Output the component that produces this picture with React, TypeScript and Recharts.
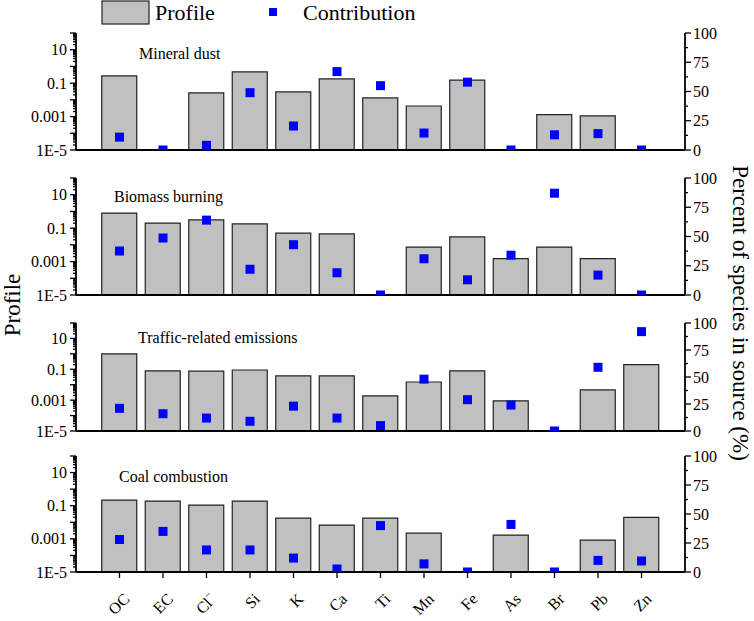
import React from 'react';
import { ComposedChart, Bar, Scatter, XAxis, YAxis } from 'recharts';

const FONT = '"Liberation Serif", "Times New Roman", serif';

const categories = ['OC', 'EC', 'Cl⁻', 'Si', 'K', 'Ca', 'Ti', 'Mn', 'Fe', 'As', 'Br', 'Pb', 'Zn'];

// profile (log axis), contribution (% axis); null = no bar
const dustProfile = [0.27, null, 0.026, 0.47, 0.03, 0.18, 0.013, 0.0043, 0.15, null, 0.0013, 0.0011, null];
const dustContribution = [11, 0, 4, 49, 20.5, 67, 55, 14.5, 58, 0, 13, 14, 0];

const biomassProfile = [0.8, 0.2, 0.31, 0.18, 0.051, 0.045, null, 0.0074, 0.03, 0.0015, 0.0074, 0.0015, null];
const biomassContribution = [37.6, 48.7, 64, 22, 43, 19, 0, 31, 13, 34, 87, 17, 0];

const trafficProfile = [1.0, 0.08, 0.075, 0.09, 0.037, 0.037, 0.0019, 0.015, 0.08, 0.0009, null, 0.0046, 0.2];
const trafficContribution = [21, 16, 12, 9, 23, 12, 5, 48, 29, 24, 0, 59, 92];

const coalProfile = [0.22, 0.19, 0.11, 0.19, 0.018, 0.0068, 0.018, 0.0022, null, 0.0017, null, 0.00085, 0.02];
const coalContribution = [28, 35, 19, 19, 12, 2.6, 40, 7, 0, 41, 0, 10, 9.5];

const logLabels = [1e-5, 0.001, 0.1, 10];
const logLabelText = ['1E-5', '0.001', '0.1', '10'];
const pctLabels = [0, 25, 50, 75, 100];

// minor ticks of the log axis: 1..9 in every decade
const logTicks: number[] = [];
for (let d = -5; d <= 1; d++) {
    for (let k = 1; k <= 9; k++) logTicks.push(Number((k * Math.pow(10, d)).toPrecision(3)));
}
logTicks.push(100);
const pctTicks = [0, 12.5, 25, 37.5, 50, 62.5, 75, 87.5, 100];

const isDecade = (v: number) => Math.abs(Math.log10(v) - Math.round(Math.log10(v))) < 1e-6;

const LeftTick = (props: any) => {
    const { x, y, payload } = props;
    const v = payload.value;
    const idx = logLabels.findIndex(l => Math.abs(Math.log10(l) - Math.log10(v)) < 1e-6);
    const len = isDecade(v) ? 6 : 3;
    return (
        <g>
            <line x1={x} x2={x - len} y1={y} y2={y} stroke="#000" strokeWidth={1.3} />
            {idx >= 0 && (
                <text x={x - 9} y={y} dy="0.35em" textAnchor="end" fontSize={16} fontFamily={FONT} fill="#000">
                    {logLabelText[idx]}
                </text>
            )}
        </g>
    );
};

const RightTick = (props: any) => {
    const { x, y, payload } = props;
    const v = payload.value;
    const major = pctLabels.includes(v);
    return (
        <g>
            <line x1={x} x2={x + (major ? 6 : 3)} y1={y} y2={y} stroke="#000" strokeWidth={1.3} />
            {major && (
                <text x={x + 8} y={y} dy="0.35em" textAnchor="start" fontSize={16} fontFamily={FONT} fill="#000">
                    {v}
                </text>
            )}
        </g>
    );
};

// category labels, -45 degrees under the bottom axis
const BottomTick = (props: any) => {
    const { x, y, payload } = props;
    const label: string = payload.value;
    const sup = label.endsWith('⁻');
    const tx = x + 11;
    const ty = y + 28;
    return (
        <g>
            <line x1={x} x2={x} y1={y} y2={y + 6} stroke="#000" strokeWidth={1.3} />
            <text
                x={tx}
                y={ty}
                transform={`rotate(-45 ${tx} ${ty})`}
                textAnchor="end"
                fontSize={16}
                fontFamily={FONT}
                fill="#000"
            >
                {sup ? label.slice(0, -1) : label}
                {sup && <tspan dy={-7} fontSize={11}>−</tspan>}
            </text>
        </g>
    );
};

const Square = (props: any) => {
    const { cx, cy } = props;
    if (cx == null || cy == null) return null;
    return <rect x={cx - 4.5} y={cy - 4.5} width={9} height={9} fill="#0000ff" />;
};

interface PanelProps {
    top: number;
    plotHeight: number;
    profile: (number | null)[];
    contribution: number[];
    showX?: boolean;
}

const Panel: React.FC<PanelProps> = ({ top, plotHeight, profile, contribution, showX }) => {
    const data = categories.map((name, i) => ({ name, profile: profile[i], contribution: contribution[i] }));
    const bottomH = showX ? 621 - (top + plotHeight) : 10;
    return (
        <div style={{ position: 'absolute', left: 0, top: top - 10 }}>
            <ComposedChart
                width={754}
                height={10 + plotHeight + bottomH}
                data={data}
                margin={{ top: 10, right: 0, bottom: 0, left: 0 }}
            >
                <XAxis
                    dataKey="name"
                    padding={{ left: 21.75, right: 21.75 }}
                    axisLine={{ stroke: '#000', strokeWidth: 1.8 }}
                    tickLine={false}
                    tickSize={0}
                    tickMargin={0}
                    interval={0}
                    tick={showX ? BottomTick : false}
                    height={bottomH}
                />
                <XAxis
                    xAxisId="top"
                    orientation="top"
                    dataKey="name"
                    axisLine={{ stroke: '#000', strokeWidth: 1.8 }}
                    tick={false}
                    tickLine={false}
                    height={0}
                />
                <YAxis
                    yAxisId="left"
                    scale="log"
                    type="number"
                    domain={[1e-5, 100]}
                    allowDataOverflow
                    ticks={logTicks}
                    interval={0}
                    width={76}
                    axisLine={{ stroke: '#000', strokeWidth: 1.8 }}
                    tickLine={false}
                    tickSize={0}
                    tickMargin={0}
                    tick={LeftTick}
                />
                <YAxis
                    yAxisId="right"
                    orientation="right"
                    type="number"
                    domain={[0, 100]}
                    allowDataOverflow
                    ticks={pctTicks}
                    interval={0}
                    width={69}
                    axisLine={{ stroke: '#000', strokeWidth: 1.8 }}
                    tickLine={false}
                    tickSize={0}
                    tickMargin={0}
                    tick={RightTick}
                />
                <Bar
                    yAxisId="left"
                    dataKey="profile"
                    barSize={35}
                    fill="#c0c0c0"
                    stroke="#222"
                    strokeWidth={1.2}
                    isAnimationActive={false}
                />
                <Scatter
                    yAxisId="right"
                    dataKey="contribution"
                    shape={Square}
                    isAnimationActive={false}
                />
            </ComposedChart>
        </div>
    );
};

export default function App() {
    return (
        <div style={{ position: 'absolute', left: 0, top: 0, width: 754, height: 621, background: '#fff', fontFamily: FONT }}>
            <Panel top={33} plotHeight={117} profile={dustProfile} contribution={dustContribution} />
            <Panel top={178} plotHeight={117} profile={biomassProfile} contribution={biomassContribution} />
            <Panel top={323} plotHeight={108} profile={trafficProfile} contribution={trafficContribution} />
            <Panel top={456} plotHeight={116} profile={coalProfile} contribution={coalContribution} showX />
            <svg width={754} height={621} style={{ position: 'absolute', left: 0, top: 0, pointerEvents: 'none' }}>
                <g fontFamily={FONT} fill="#000">
                    <rect x={102} y={1} width={47} height={23} fill="#c0c0c0" stroke="#222" strokeWidth={1.2} />
                    <text x={155} y={20} fontSize={22}>Profile</text>
                    <rect x={269} y={8} width={8} height={8} fill="#0000ff" />
                    <text x={303} y={20} fontSize={22}>Contribution</text>

                    <text x={139} y={59} fontSize={16}>Mineral dust</text>
                    <text x={114} y={202} fontSize={16}>Biomass burning</text>
                    <text x={138} y={343} fontSize={16}>Traffic-related emissions</text>
                    <text x={119} y={482} fontSize={16}>Coal combustion</text>

                    <text x={20} y={305} fontSize={23} textAnchor="middle" transform="rotate(-90 20 305)">Profile</text>
                    <text x={733} y={313} fontSize={23} textAnchor="middle" transform="rotate(90 733 313)">
                        Percent of species in source (%)
                    </text>
                </g>
            </svg>
        </div>
    );
}
